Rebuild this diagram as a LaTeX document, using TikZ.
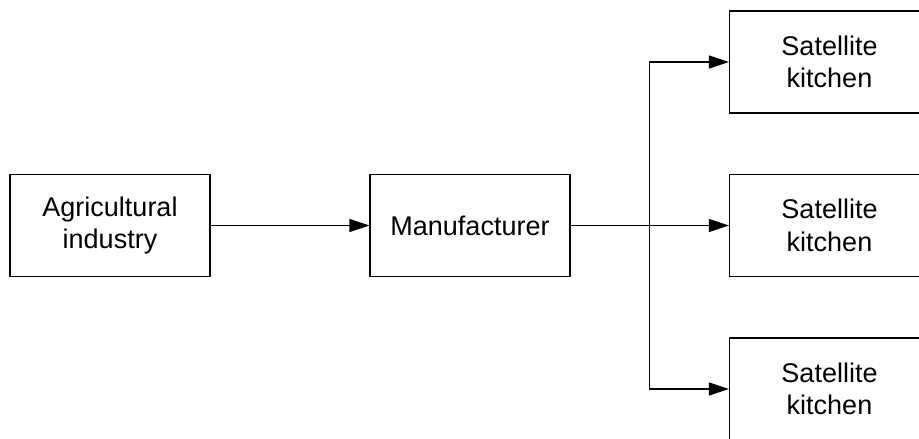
\documentclass[tikz,border=0pt]{standalone}
\usepackage{fontspec}
\setmainfont{Liberation Sans}
\usetikzlibrary{arrows.meta}
\begin{document}
\begin{tikzpicture}[x=1pt,y=-1pt,
  boxnode/.style={draw, line width=1.2pt, minimum width=200pt, minimum height=102pt, inner sep=0pt, align=center, font=\fontsize{27}{32.5}\selectfont},
  arr/.style={line width=1.2pt, -{Triangle[length=20pt,width=13pt]}},
  ln/.style={line width=1.2pt}]
\clip (0,0) rectangle (919,439);
\node[boxnode] (agri) at (110,225.5) {Agricultural\\industry};
\node[boxnode] (manu) at (470,225.5) {Manufacturer};
\node[boxnode] (k1) at (829.5,62) {Satellite\\kitchen};
\node[boxnode] (k2) at (829.5,225.5) {Satellite\\kitchen};
\node[boxnode] (k3) at (829.5,389) {Satellite\\kitchen};
\coordinate (br) at (649.5,225.5);
\draw[arr] (agri.east) -- (manu.west);
\draw[arr] (manu.east) -- (k2.west);
\draw[arr] (br) |- (k1.west);
\draw[arr] (br) |- (k3.west);
\end{tikzpicture}
\end{document}
